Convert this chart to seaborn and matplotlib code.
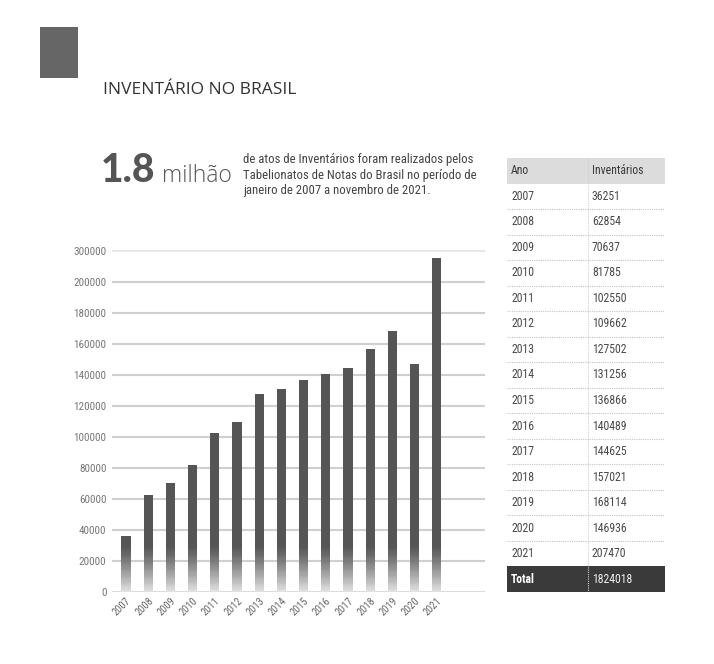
import numpy as np
import pandas as pd
import matplotlib
matplotlib.use("Agg")
import matplotlib.pyplot as plt
import matplotlib.font_manager as fm
from matplotlib.patches import Rectangle
import seaborn as sns

# ---------------- data ----------------
years = ["2007", "2008", "2009", "2010", "2011", "2012", "2013", "2014",
         "2015", "2016", "2017", "2018", "2019", "2020", "2021"]
inventarios = [36251, 62854, 70637, 81785, 102550, 109662, 127502, 131256,
               136866, 140489, 144625, 157021, 168114, 146936, 207470]
# bar heights as drawn in the picture (2021 bar is drawn taller than its table value)
bar_heights = [36251, 62854, 70637, 81785, 102550, 109662, 127502, 131256,
               136866, 140489, 144625, 157021, 168114, 146936, 215500]
total_label = "1824018"
ytick_labels = ["0", "20000", "40000", "60000", "80000", "100000", "120000",
                "140000", "160000", "180000", "200000", "300000"]
title = "INVENTÁRIO NO BRASIL"
big_number = "1.8"
big_unit = "milhão"
paragraph = ("de atos de Inventários foram realizados pelos\n"
             "Tabelionatos de Notas do Brasil no período de\n"
             "janeiro de 2007 a novembro de 2021.")
table_header = ["Ano", "Inventários"]

# ---------------- style ----------------
sns.set_theme(style="white")
plt.rcParams["font.family"] = ["Open Sans", "DejaVu Sans"]


def find_narrow(bold=False):
    want = (700, "bold") if bold else (400, "normal", "regular")
    prefs = ["Liberation Sans Narrow", "Roboto Condensed", "Open Sans Condensed",
             "Noto Sans Condensed", "DejaVu Sans Condensed", "Arial Narrow"]
    for name in prefs:
        for f in fm.fontManager.ttflist:
            if f.name == name and f.style == "normal" and f.weight in want:
                return f.fname
    for f in fm.fontManager.ttflist:
        if (f.stretch in ("condensed", "semi-condensed")
                and "Sans" in f.name and "Mono" not in f.name
                and f.style == "normal" and f.weight in want):
            return f.fname
    return None


_nf = find_narrow()
_nfb = find_narrow(bold=True)


def narrow(size, bold=False):
    fname = (_nfb if bold else _nf)
    if fname is None:
        fname = _nf
    if fname is None:
        return fm.FontProperties(family=["Liberation Sans", "DejaVu Sans"],
                                 size=size * 0.88,
                                 weight="bold" if bold else "normal")
    return fm.FontProperties(fname=fname, size=size)


W, H = 714, 664
fig = plt.figure(figsize=(W / 100, H / 100), dpi=100)
fig.patch.set_facecolor("white")


def fx(px):
    return px / W


def fy(py):
    return 1 - py / H


# grey square
fig.patches.append(Rectangle((fx(40), fy(78)), fx(38), 51 / H,
                             transform=fig.transFigure, facecolor="#666666",
                             edgecolor="none"))
# title
fig.text(fx(103), fy(90), title, fontsize=12.5, color="#333333",
         va="center", ha="left", family=["Open Sans", "DejaVu Sans"])
# big number
fig.text(fx(101), fy(182), big_number, fontsize=28, fontweight="black",
         color="#555555", va="baseline", ha="left", family=["Lato", "DejaVu Sans"])
fig.text(fx(162), fy(182), big_unit, fontsize=16.5, fontweight="light",
         color="#555555", va="baseline", ha="left", family=["Open Sans", "DejaVu Sans"])
fig.text(fx(243), fy(153), paragraph, fontproperties=narrow(9.2), color="#444444",
         va="top", ha="left", linespacing=1.25)

# ---------------- bar chart ----------------
ax = fig.add_axes([fx(112), fy(592), fx(485) - fx(112), (592 - 247.9) / H])
df = pd.DataFrame({"Ano": years, "Valor": bar_heights})
sns.barplot(data=df, x="Ano", y="Valor", color="#555555", saturation=1,
            width=0.42, ax=ax, zorder=3, linewidth=0)

ytick_pos = [i * 20000 for i in range(len(ytick_labels))]

# gradient at the bottom of each bar, built from the seaborn bars
G = 30000
n = 40
c_top = np.array([0x55, 0x55, 0x55]) / 255
c_bot = np.array([0xe4, 0xe4, 0xe4]) / 255
for p in list(ax.patches):
    x0, w, h = p.get_x(), p.get_width(), p.get_height()
    hh = min(G, h)
    step = hh / n
    for k in range(n):
        tt = (k + 0.5) / n
        col = c_bot * (1 - tt) ** 1.2 + c_top * (1 - (1 - tt) ** 1.2)
        ax.add_patch(Rectangle((x0, k * step), w, step * 1.02,
                               facecolor=col, edgecolor="none", zorder=4))
ax.set_ylim(0, 222000)
ax.set_xlim(-0.63, 16.17)

ax.set_yticks(ytick_pos)
ax.set_yticklabels(ytick_labels)
ax.yaxis.grid(True, color="#cfcfcf", linewidth=1.5, zorder=0)
ax.xaxis.grid(False)
gl = ax.get_ygridlines()
gl[0].set_color("#dcdcdc")
gl[-1].set_color("#e8e8e8")
ax.set_axisbelow(True)
for s in ax.spines.values():
    s.set_visible(False)
ax.set_xlabel("")
ax.set_ylabel("")
ax.tick_params(axis="y", length=0, pad=4, labelcolor="#777777")
ax.tick_params(axis="x", length=0, pad=3, labelcolor="#666666", labelrotation=45)
for lab in ax.get_yticklabels():
    lab.set_fontproperties(narrow(8))
for lab in ax.get_xticklabels():
    lab.set_fontproperties(narrow(7.5))
    lab.set_horizontalalignment("right")
    lab.set_verticalalignment("top")
    lab.set_rotation_mode("anchor")
ax.set_facecolor("none")

# ---------------- table ----------------
nrows = len(years) + 2
tax = fig.add_axes([fx(507), fy(592), fx(665) - fx(507), (592 - 158) / H])
tax.set_xlim(0, 158)
tax.set_ylim(nrows, 0)
tax.axis("off")
tax.add_patch(Rectangle((0, 0), 158, 1, facecolor="#dcdcdc", edgecolor="none"))
tax.add_patch(Rectangle((0, nrows - 1), 158, 1, facecolor="#3a3a3a", edgecolor="none"))
tax.plot([81, 81], [0, nrows], color="#d0d0d0", lw=0.8, ls=(0, (1, 1)))
for i in range(1, nrows - 2):
    tax.plot([0, 158], [i + 1, i + 1], color="#c4c4c4", lw=0.8, ls=(0, (1, 1)))

tfp = narrow(8.5)
tax.text(4, 0.5, table_header[0], fontproperties=tfp, color="#3a3a3a",
         va="center", ha="left")
tax.text(85, 0.5, table_header[1], fontproperties=tfp, color="#3a3a3a",
         va="center", ha="left")
for i, (yr, v) in enumerate(zip(years, inventarios)):
    tax.text(4, i + 1.5, yr, fontproperties=tfp, color="#4a4a4a",
             va="center", ha="left")
    tax.text(85, i + 1.5, str(v), fontproperties=tfp, color="#4a4a4a",
             va="center", ha="left")
tax.text(4, nrows - 0.5, "Total", fontproperties=narrow(8.5, bold=True),
         color="white", va="center", ha="left")
tax.text(85, nrows - 0.5, total_label, fontproperties=tfp, color="#eeeeee",
         va="center", ha="left")

fig.savefig("out.png", dpi=100, facecolor="white")
